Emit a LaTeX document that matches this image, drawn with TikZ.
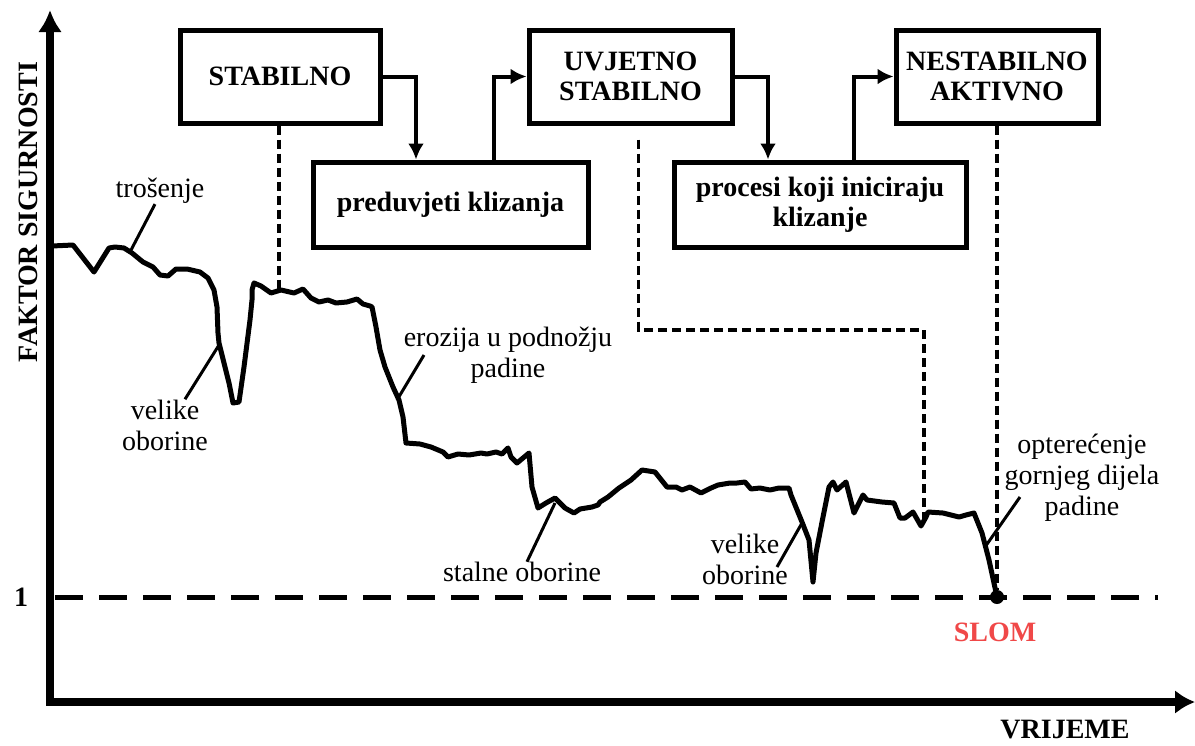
\documentclass[tikz,border=0pt]{standalone}
\usepackage{fontspec}
\setmainfont{LiberationSerif}[Extension=.ttf, UprightFont=*-Regular, BoldFont=*-Bold, ItalicFont=*-Italic, BoldItalicFont=*-BoldItalic]
\usetikzlibrary{arrows.meta}
\definecolor{slomred}{RGB}{240,72,72}
\begin{document}
\begin{tikzpicture}[x=0.5pt,y=-0.5pt,
  font=\fontsize{14pt}{15.5pt}\selectfont,
  box/.style={draw, line width=2.5pt, inner sep=0pt, align=center, font=\fontsize{14pt}{15pt}\selectfont\bfseries},
  flow/.style={line width=2pt, -{Latex[length=8pt,width=8pt]}},
  guide/.style={line width=1.75pt, dash pattern=on 4.5pt off 2.5pt},
  leader/.style={line width=1.5pt},
  lbl/.style={align=center, inner sep=0pt},
  axis/.style={line width=3.75pt, {Latex[length=11pt,width=12pt]}-{Latex[length=10pt,width=12pt]}},
  curve/.style={line width=2.5pt, line join=round},
  bold/.style={inner sep=0pt, font=\fontsize{14pt}{15pt}\selectfont\bfseries}
]
\path[use as bounding box] (0,0) rectangle (1195,745);

% axes
\coordinate (O) at (50,702);
\coordinate (ytop) at (50,10);
\coordinate (xend) at (1195,702);
\draw[axis] (ytop) -- (O) -- (xend);
\node[bold, rotate=90] (fs) at (28,212) {FAKTOR SIGURNOSTI};
\node[bold] (vr) at (1065,730) {VRIJEME};
\node[bold] (one) at (21,597) {1};

% factor = 1 line
\coordinate (b0) at (55,597);
\coordinate (b1) at (1158,597);
\draw[line width=2.5pt, dash pattern=on 14pt off 8pt] (b0) -- (b1);

% failure point
\node[circle, fill, inner sep=0pt, minimum size=7pt] (slom) at (997,597) {};
\node[bold, text=slomred] (slomtxt) at (995,632) {SLOM};

% boxes
\node[box, minimum width=100pt, minimum height=46.5pt] (stab) at (280,76.5) {STABILNO};
\node[box, minimum width=137.5pt, minimum height=42.5pt] (pred) at (450.5,204.5) {preduvjeti klizanja};
\node[box, minimum width=101.5pt, minimum height=46.5pt] (uv) at (630.5,76.5) {UVJETNO\\STABILNO};
\node[box, minimum width=146pt, minimum height=42.5pt] (proc) at (820,204.5) {procesi koji iniciraju\\klizanje};
\node[box, minimum width=101pt, minimum height=46.5pt] (nest) at (997,76.5) {NESTABILNO\\AKTIVNO};

% flow arrows
\draw[flow] (stab.east) -| ([xshift=-17.25pt]pred.north);
\draw[flow] ([xshift=21.75pt]pred.north) |- (uv.west);
\draw[flow] (uv.east) -| ([xshift=-26pt]proc.north);
\draw[flow] ([xshift=17pt]proc.north) |- (nest.west);

% curve
\draw[curve] (52,246) -- (73,245) -- (94,272) -- (109,248) -- (115,247) -- (124,248) -- (132,253) -- (143,262) -- (153,267) -- (160,275) -- (168,276) -- (176,269) -- (187,269) -- (200,272) -- (208,278) -- (214,290) -- (217,307) -- (218,333) -- (219,343) -- (229,383) -- (233,403) -- (239,402) -- (244,367) -- (250,320) -- (252,300) -- (252,290) -- (254,283) -- (261,286) -- (271,293) -- (281,290) -- (294,293) -- (303,289) -- (311,298) -- (319,302) -- (328,300) -- (336,303) -- (347,302) -- (357,299) -- (363,304) -- (370,306) -- (372,307) -- (376,327) -- (380,350) -- (385,367) -- (393,387) -- (399,400) -- (403,417) -- (406,443) -- (420,444) -- (431,447) -- (443,452) -- (448,457) -- (458,454) -- (469,455) -- (481,453) -- (487,454) -- (496,452) -- (502,454) -- (508,448) -- (511,457) -- (517,463) -- (529,453) -- (532,487) -- (538,508) -- (546,503) -- (555,498) -- (565,508) -- (574,513) -- (580,509) -- (592,507) -- (598,505) -- (600,502) -- (608,497) -- (619,488) -- (631,480) -- (642,470) -- (655,472) -- (667,487) -- (676,487) -- (682,490) -- (690,487) -- (701,493) -- (711,488) -- (718,485) -- (730,483) -- (737,483) -- (745,482) -- (751,489) -- (760,488) -- (770,490) -- (779,488) -- (789,488) -- (791,495) -- (802,522) -- (809,540) -- (813,582) -- (816,553) -- (823,517) -- (829,487) -- (833,482) -- (837,490) -- (846,482) -- (854,513) -- (863,495) -- (867,500) -- (882,502) -- (894,503) -- (900,518) -- (905,518) -- (913,512) -- (921,526) -- (926,517) -- (928,512) -- (943,513) -- (959,517) -- (966,515) -- (974,513) -- (982,533) -- (989,560) -- (slom.center);

% guide (dashed) lines
\coordinate (g1) at (279,290);
\draw[guide] ([xshift=-0.5pt]stab.south) -- (g1);
\coordinate (g2c) at (924,330);
\coordinate (g2) at (924,520);
\draw[guide] ([xshift=4pt,yshift=-7pt]uv.south) |- (g2c) -- (g2);
\draw[guide] (nest.south) -- (slom);

% labels and leaders
\node[lbl] (tros) at (160,191) {trošenje};
\coordinate (tros-c) at (130,252);
\draw[leader] ([xshift=-2.5pt]tros.south) -- (tros-c);

\node[lbl] (vo1) at (165,425) {velike\\oborine};
\coordinate (vo1-c) at (219,345);
\draw[leader] ([xshift=10pt]vo1.north) -- (vo1-c);

\node[lbl] (ero) at (508,355) {erozija u podnožju\\padine};
\coordinate (ero-c) at (397,400);
\draw[leader] ([xshift=-42pt]ero.center) -- (ero-c);

\node[lbl] (sta) at (522,572) {stalne oborine};
\coordinate (sta-c) at (555,503);
\draw[leader] ([xshift=2.5pt]sta.north) -- (sta-c);

\node[lbl] (vo2) at (745,559) {velike\\oborine};
\coordinate (vo2-c) at (802,523);
\draw[leader] ([xshift=16pt,yshift=-4pt]vo2.center) -- (vo2-c);

\node[lbl] (opt) at (1082,478) {opterećenje\\gornjeg dijela\\padine};
\coordinate (opt-c) at (985,547);
\draw[leader] ([xshift=-31pt,yshift=-9.5pt]opt.center) -- (opt-c);
\end{tikzpicture}
\end{document}
